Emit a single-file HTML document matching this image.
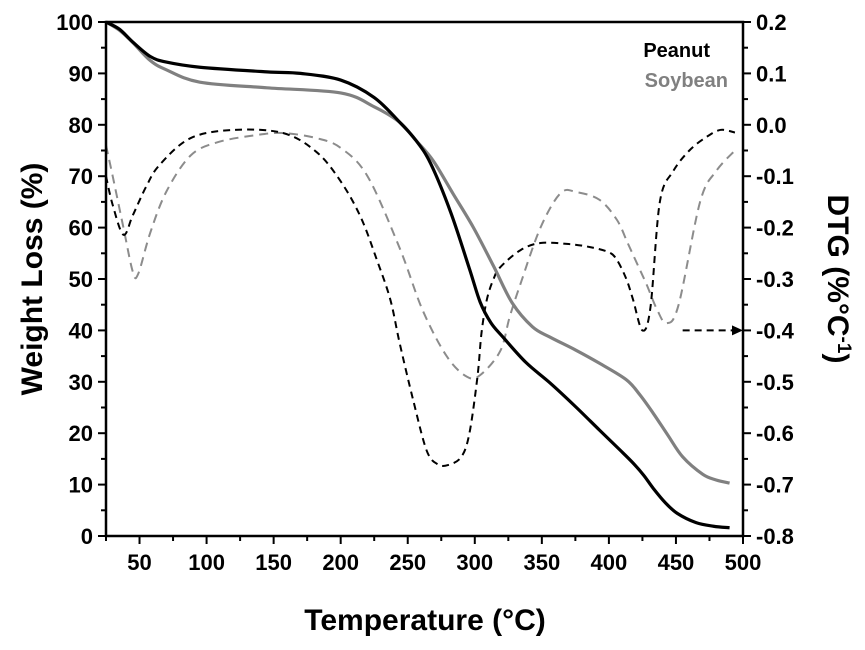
<!DOCTYPE html>
<html><head><meta charset="utf-8"><style>
body{margin:0;background:#fff}
svg text{font-family:"Liberation Sans",Arial,sans-serif;font-weight:bold}
</style></head><body>
<svg id="c" width="865" height="645" viewBox="0 0 865 645" xmlns="http://www.w3.org/2000/svg"></svg>
<script>
const xTicks=[50,100,150,200,250,300,350,400,450,500];
const yLeftTicks=[0,10,20,30,40,50,60,70,80,90,100];
const yRightTicks=[0.2,0.1,0.0,-0.1,-0.2,-0.3,-0.4,-0.5,-0.6,-0.7,-0.8];
const peanutTgaT=[25,35,45,58,70,95,145,170,200,225,244,256,267,282,296,304,312,321,338,356,375,393,408,418,426,433,442,451,465,478,490];
const peanutTga=[100,98.6,96.1,93.3,92.2,91.2,90.3,90,88.7,85.3,80.5,77,72.5,63,52,45.5,41.5,38.7,33.8,29.8,25.2,20.6,16.8,14.2,11.8,9.3,6.5,4.4,2.6,1.9,1.6];
const soyTgaT=[25,35,45,58,70,95,145,200,225,244,256,269,284,299,314,328,343,356,375,393,413,423,433,444,455,470,480,490];
const soyTga=[100,98.4,96,92.5,90.7,88.3,87.2,86.2,83.5,80.5,77,73,66.5,60,52.5,45.3,40.7,38.7,36.2,33.6,30.4,27.5,23.9,19.6,15.4,12,10.9,10.3];
const peanutDtgT=[25,30,38,45,55,65,88,120,157,182,200,215,227,237,244,254,264,272,280,290,296,302,305,309,314,319,334,349,370,386,400,406,413,418,425,431,438,448,460,472,483,494];
const peanutDtg=[-0.1,-0.156,-0.214,-0.176,-0.12,-0.078,-0.026,-0.01,-0.016,-0.053,-0.11,-0.18,-0.263,-0.34,-0.425,-0.535,-0.633,-0.66,-0.662,-0.646,-0.6,-0.49,-0.405,-0.34,-0.3,-0.277,-0.244,-0.23,-0.232,-0.238,-0.248,-0.263,-0.3,-0.34,-0.4,-0.355,-0.15,-0.09,-0.05,-0.025,-0.01,-0.015];
const soyDtgT=[25,30,38,45,49,58,70,88,108,137,157,182,200,220,244,261,279,294,304,319,326,334,349,364,376,393,406,414,421,428,436,443,452,468,480,494];
const soyDtg=[-0.04,-0.1,-0.2,-0.286,-0.29,-0.21,-0.13,-0.06,-0.034,-0.02,-0.016,-0.026,-0.045,-0.1,-0.24,-0.36,-0.45,-0.49,-0.487,-0.44,-0.374,-0.31,-0.2,-0.133,-0.131,-0.146,-0.185,-0.23,-0.27,-0.31,-0.36,-0.386,-0.35,-0.15,-0.09,-0.05];
const arrowT=[455,500];const arrowV=[-0.4,-0.4];

const L=106,R=743,T=22,B=536;
const sx=t=>L+(t-25)/(500-25)*(R-L);
const sy=v=>B-v/100*(B-T);
const sy2=v=>B-(v+0.8)/1.0*(B-T);
const NS="http://www.w3.org/2000/svg";
const svg=document.getElementById('c');
function el(tag,attrs,txt){const e=document.createElementNS(NS,tag);for(const k in attrs)e.setAttribute(k,attrs[k]);if(txt!==undefined)e.textContent=txt;svg.appendChild(e);return e;}
function smooth(pts){let d=`M${pts[0][0]},${pts[0][1]}`;for(let i=0;i<pts.length-1;i++){const p0=pts[Math.max(0,i-1)],p1=pts[i],p2=pts[i+1],p3=pts[Math.min(pts.length-1,i+2)];const c1=[p1[0]+(p2[0]-p0[0])/6,p1[1]+(p2[1]-p0[1])/6],c2=[p2[0]-(p3[0]-p1[0])/6,p2[1]-(p3[1]-p1[1])/6];d+=`C${c1[0]},${c1[1]} ${c2[0]},${c2[1]} ${p2[0]},${p2[1]}`;}return d;}
function series(ts,vs,f,stroke,w,dash,name){const p=el('path',{d:smooth(ts.map((t,i)=>[sx(t),f(vs[i])])),fill:'none',stroke:stroke,'stroke-width':w,'stroke-dasharray':dash||'none'});

}
series(soyDtgT,soyDtg,sy2,'#8c8c8c',2,'9,6','soybean-dtg-line');
series(peanutDtgT,peanutDtg,sy2,'#000',2,'7,5','peanut-dtg-line');
series(soyTgaT,soyTga,sy,'#808080',3.2,null,'soybean-tga-line');
series(peanutTgaT,peanutTga,sy,'#000',3.2,null,'peanut-tga-line');
const a=el('line',{x1:sx(arrowT[0]),y1:sy2(arrowV[0]),x2:R-10,y2:sy2(arrowV[1]),stroke:'#000','stroke-width':2,'stroke-dasharray':'7,5'});


const ah=el('polygon',{points:`${R},${sy2(arrowV[1])} ${R-11},${sy2(arrowV[1])-5} ${R-11},${sy2(arrowV[1])+5}`,fill:'#000'});


const fr=el('rect',{x:L,y:T,width:R-L,height:B-T,fill:'none',stroke:'#000','stroke-width':2.5});


xTicks.forEach(t=>{el('line',{x1:sx(t),y1:B,x2:sx(t),y2:B+8,stroke:'#000','stroke-width':2});
const tx=el('text',{x:sx(t),y:B+34,'text-anchor':'middle','font-size':22},t);


if(t>50)el('line',{x1:sx(t-25),y1:B,x2:sx(t-25),y2:B+5,stroke:'#000','stroke-width':2});});
el('line',{x1:sx(25),y1:B,x2:sx(25),y2:B+5,stroke:'#000','stroke-width':2});
yLeftTicks.forEach(v=>{el('line',{x1:L,y1:sy(v),x2:L-8,y2:sy(v),stroke:'#000','stroke-width':2});
if(v<100)el('line',{x1:L,y1:sy(v+5),x2:L-5,y2:sy(v+5),stroke:'#000','stroke-width':2});
const tx=el('text',{x:L-13,y:sy(v)+8,'text-anchor':'end','font-size':22},v);

});
yRightTicks.forEach(v=>{el('line',{x1:R,y1:sy2(v),x2:R+8,y2:sy2(v),stroke:'#000','stroke-width':2});
if(v>-0.8)el('line',{x1:R,y1:sy2(v-0.05),x2:R+5,y2:sy2(v-0.05),stroke:'#000','stroke-width':2});
const tx=el('text',{x:R+13,y:sy2(v)+8,'text-anchor':'start','font-size':22},v.toFixed(1));

});
</script>
<svg style="position:absolute;left:0;top:0" width="865" height="645">
<text x="425" y="630" text-anchor="middle" font-size="30" font-family="Liberation Sans" font-weight="bold">Temperature (°C)</text>
<text transform="translate(42,279) rotate(-90)" text-anchor="middle" font-size="30" font-family="Liberation Sans" font-weight="bold">Weight Loss (%)</text>
<text transform="translate(828,279) rotate(90)" text-anchor="middle" font-size="30" font-family="Liberation Sans" font-weight="bold">DTG (%°C<tspan dy="-10" font-size="19">-1</tspan><tspan dy="10">)</tspan></text>
<text x="710" y="57" text-anchor="end" font-size="20" font-family="Liberation Sans" font-weight="bold" fill="#000">Peanut</text>
<text x="728" y="87" text-anchor="end" font-size="20" font-family="Liberation Sans" font-weight="bold" fill="#808080">Soybean</text>
</svg>
</body></html>
